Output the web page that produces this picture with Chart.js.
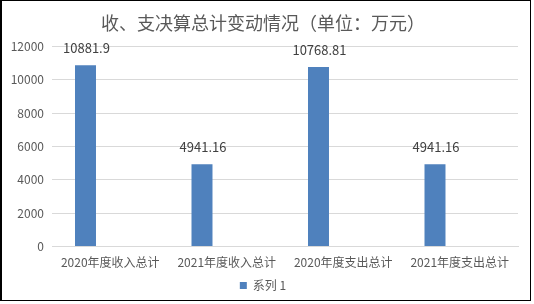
<!DOCTYPE html>
<html>
<head>
<meta charset="utf-8">
<script src="https://cdn.jsdelivr.net/npm/chart.js@4"></script>
<style>
html,body{margin:0;padding:0;background:#fff;}
#wrap{position:absolute;left:0;top:0;width:534px;height:304px;}
</style>
</head>
<body>
<div id="wrap"><canvas id="c" width="534" height="304"></canvas></div>
<script>
const categories = ['2020年度收入总计', '2021年度收入总计', '2020年度支出总计', '2021年度支出总计'];
const series1 = [10881.9, 4941.16, 10768.81, 4941.16];
const valueLabels = ['10881.9', '4941.16', '10768.81', '4941.16'];
const emptySeries = [null, null, null, null];
const yTicks = [0, 2000, 4000, 6000, 8000, 10000, 12000];
const titleText = '收、支决算总计变动情况（单位：万元）';
const seriesName = '系列 1';

const FONT = '"Noto Sans CJK SC", "Noto Sans", sans-serif';

const borderPlugin = {
  id: 'border',
  afterDraw(chart) {
    const ctx = chart.ctx;
    ctx.save();
    ctx.strokeStyle = '#000';
    ctx.lineWidth = 1;
    ctx.strokeRect(0.5, 0.5, 530, 300);
    ctx.beginPath();
    ctx.moveTo(1.5, 0);
    ctx.lineTo(1.5, 301);
    ctx.stroke();
    ctx.restore();
  }
};

const labelPlugin = {
  id: 'valueLabels',
  afterDatasetsDraw(chart) {
    const ctx = chart.ctx;
    const meta = chart.getDatasetMeta(0);
    ctx.save();
    ctx.font = '13px ' + FONT;
    ctx.fillStyle = '#404040';
    ctx.textAlign = 'center';
    ctx.textBaseline = 'middle';
    meta.data.forEach((bar, i) => {
      ctx.fillText(valueLabels[i], bar.x + 1, bar.y - 17);
    });
    ctx.restore();
  }
};

new Chart(document.getElementById('c'), {
  type: 'bar',
  data: {
    labels: categories,
    datasets: [
      {
        label: seriesName,
        data: series1,
        backgroundColor: '#4f81bd',
        barPercentage: 0.424,
        categoryPercentage: 0.85
      },
      {
        label: '',
        data: emptySeries,
        backgroundColor: '#c0504d',
        barPercentage: 0.424,
        categoryPercentage: 0.85
      }
    ]
  },
  options: {
    responsive: false,
    animation: false,
    layout: { padding: { left: 0, right: 8, top: 0, bottom: 2.5 } },
    plugins: {
      title: {
        display: true,
        text: titleText,
        color: '#595959',
        font: { family: FONT, size: 18, weight: 'normal' },
        padding: { top: 12, bottom: 13 }
      },
      legend: {
        position: 'bottom',
        labels: {
          color: '#595959',
          font: { family: FONT, size: 12 },
          boxWidth: 7,
          boxHeight: 7,
          padding: 0.5,
          filter: (item) => item.datasetIndex === 0
        }
      },
      tooltip: { enabled: false }
    },
    scales: {
      x: {
        grid: { display: false, drawTicks: false },
        border: { display: true, color: '#d9d9d9' },
        ticks: {
          color: '#595959',
          font: { family: FONT, size: 12 },
          padding: 9,
          maxRotation: 0
        }
      },
      y: {
        min: 0,
        max: 12000,
        afterFit(scale) { scale.width = 52; },
        afterBuildTicks(scale) { scale.ticks = yTicks.map(v => ({ value: v })); },
        grid: { color: '#d9d9d9', drawTicks: false },
        border: { display: false },
        ticks: {
          color: '#595959',
          font: { family: FONT, size: 12 },
          padding: 8,
          callback: (v) => String(v)
        }
      },
      yRight: {
        position: 'right',
        min: 0,
        max: 12000,
        afterFit(scale) { scale.width = 8; },
        grid: { display: false, drawTicks: false },
        border: { display: false },
        ticks: { display: false }
      }
    }
  },
  plugins: [labelPlugin, borderPlugin]
});
</script>
</body>
</html>
